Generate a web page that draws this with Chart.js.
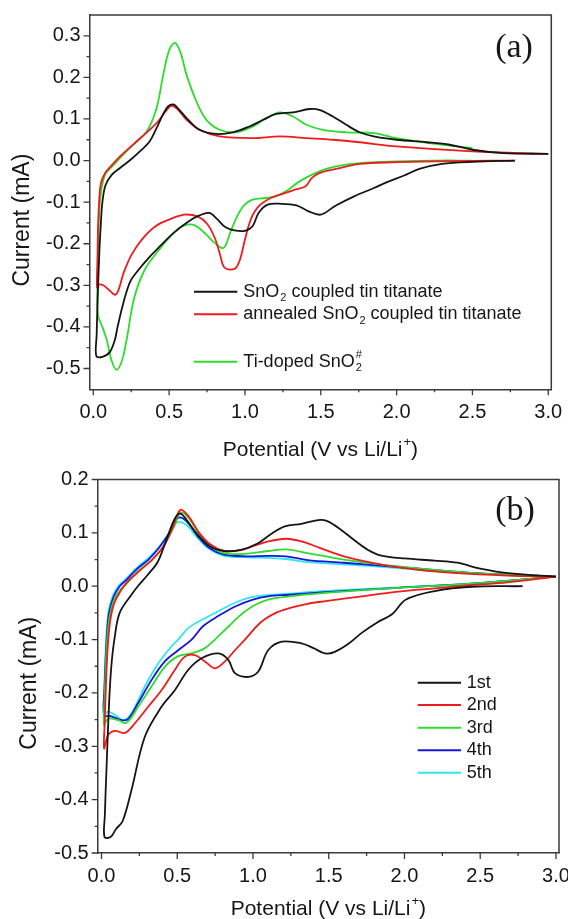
<!DOCTYPE html>
<html>
<head>
<meta charset="utf-8">
<script src="https://cdn.jsdelivr.net/npm/chart.js@4.4.1/dist/chart.umd.min.js"></script>
<style>
body{margin:0;background:#fff;width:568px;height:919px;overflow:hidden;position:relative}
.panel{position:absolute;left:0;width:568px}
#pa{top:0;height:460px}
#pb{top:460px;height:459px}
</style>
</head>
<body>
<div class="panel" id="pa"><canvas id="ca"></canvas></div>
<div class="panel" id="pb"><canvas id="cb"></canvas></div>
<script>
// ---- data: [potential V, current mA], cathodic sweep then anodic sweep ----
var aSnO2 = [[2.78,0],[2.5,-0.003],[2.3,-0.008],[2.15,-0.02],[2.05,-0.036],[1.95,-0.05],[1.85,-0.066],[1.72,-0.086],[1.6,-0.108],[1.5,-0.13],
  [1.42,-0.122],[1.34,-0.108],[1.24,-0.104],[1.15,-0.106],[1.09,-0.126],[1.05,-0.158],[1.0,-0.169],[0.93,-0.168],[0.87,-0.16],[0.82,-0.142],
  [0.765,-0.126],[0.70,-0.132],[0.63,-0.146],[0.53,-0.174],[0.44,-0.206],[0.37,-0.232],[0.30,-0.262],[0.245,-0.29],[0.2,-0.34],[0.16,-0.4],
  [0.143,-0.43],[0.11,-0.46],[0.06,-0.472],[0.02,-0.47],
  [0.022,-0.42],[0.03,-0.32],[0.04,-0.22],[0.05,-0.15],[0.06,-0.1],[0.08,-0.06],[0.12,-0.035],[0.176,-0.018],[0.24,0.0],[0.307,0.022],
  [0.37,0.045],[0.417,0.078],[0.483,0.126],[0.527,0.135],[0.56,0.125],[0.615,0.102],[0.70,0.074],[0.81,0.064],[0.92,0.068],[1.03,0.082],
  [1.12,0.098],[1.207,0.112],[1.317,0.116],[1.427,0.124],[1.49,0.122],[1.58,0.106],[1.668,0.086],[1.756,0.068],[1.85,0.058],[2.0,0.05],
  [2.2,0.044],[2.35,0.038],[2.5,0.026],[2.7,0.018],[3.0,0.016]];

var aAnnealed = [[2.78,0],[2.5,-0.001],[2.25,-0.002],[2.0,-0.004],[1.756,-0.008],[1.6,-0.02],[1.49,-0.03],[1.44,-0.042],[1.40,-0.062],[1.33,-0.07],
  [1.25,-0.08],[1.17,-0.09],[1.09,-0.11],[1.04,-0.14],[1.0,-0.19],[0.97,-0.235],[0.94,-0.258],[0.90,-0.262],[0.86,-0.255],[0.835,-0.225],
  [0.80,-0.185],[0.75,-0.152],[0.69,-0.135],[0.60,-0.13],[0.5,-0.142],[0.41,-0.158],[0.32,-0.19],[0.25,-0.228],[0.2,-0.27],[0.15,-0.322],
  [0.1,-0.31],[0.066,-0.3],[0.04,-0.298],[0.025,-0.305],
  [0.027,-0.25],[0.032,-0.15],[0.04,-0.09],[0.05,-0.055],[0.078,-0.03],[0.125,-0.01],[0.176,0.01],[0.307,0.053],[0.417,0.09],[0.505,0.13],
  [0.527,0.131],[0.56,0.122],[0.615,0.098],[0.70,0.074],[0.834,0.058],[1.053,0.054],[1.23,0.058],[1.405,0.054],[1.58,0.05],[1.756,0.044],
  [2.0,0.034],[2.5,0.022],[3.0,0.016]];

var aTiDoped = [[2.5,0],[2.25,0],[2.0,-0.002],[1.756,-0.006],[1.6,-0.014],[1.49,-0.026],[1.36,-0.05],[1.27,-0.074],[1.2,-0.086],[1.14,-0.09],
  [1.05,-0.094],[0.98,-0.114],[0.91,-0.166],[0.86,-0.21],[0.8,-0.198],[0.745,-0.178],[0.67,-0.156],[0.6,-0.156],[0.53,-0.174],[0.435,-0.214],
  [0.34,-0.262],[0.27,-0.33],[0.22,-0.43],[0.19,-0.48],[0.154,-0.503],[0.12,-0.48],[0.088,-0.43],[0.06,-0.4],[0.03,-0.37],
  [0.027,-0.3],[0.032,-0.2],[0.04,-0.12],[0.05,-0.078],[0.078,-0.034],[0.125,-0.014],[0.176,0.006],[0.263,0.038],[0.352,0.07],[0.417,0.126],
  [0.461,0.206],[0.5,0.265],[0.538,0.283],[0.575,0.26],[0.615,0.206],[0.68,0.142],[0.746,0.098],[0.834,0.074],[0.944,0.068],[1.053,0.082],
  [1.14,0.102],[1.23,0.116],[1.317,0.106],[1.405,0.086],[1.514,0.074],[1.668,0.068],[1.85,0.066],[2.0,0.054],[2.25,0.04],[2.5,0.03]];

var bCycle1 = [[2.78,0],[2.44,-0.001],[2.2,-0.009],[2.01,-0.025],[1.92,-0.052],[1.82,-0.068],[1.72,-0.087],[1.63,-0.108],[1.54,-0.123],[1.475,-0.126],
  [1.4,-0.116],[1.32,-0.107],[1.19,-0.104],[1.1,-0.12],[1.035,-0.16],[0.969,-0.17],[0.881,-0.163],[0.837,-0.138],[0.771,-0.126],[0.661,-0.135],
  [0.572,-0.157],[0.484,-0.195],[0.396,-0.226],[0.286,-0.282],[0.198,-0.382],[0.14,-0.44],[0.096,-0.455],[0.06,-0.47],[0.02,-0.47],
  [0.022,-0.43],[0.033,-0.343],[0.05,-0.22],[0.065,-0.15],[0.085,-0.1],[0.12,-0.05],[0.2,-0.015],[0.24,0.0],[0.307,0.022],[0.37,0.045],
  [0.417,0.078],[0.483,0.126],[0.52,0.136],[0.56,0.125],[0.63,0.098],[0.72,0.074],[0.81,0.066],[0.92,0.068],[1.03,0.08],[1.12,0.098],
  [1.21,0.112],[1.32,0.117],[1.43,0.124],[1.49,0.122],[1.58,0.106],[1.67,0.086],[1.76,0.068],[1.84,0.058],[2.0,0.052],[2.2,0.048],
  [2.35,0.044],[2.5,0.033],[2.7,0.024],[3.0,0.018]];

var bCycle2 = [[3.0,0.018],[2.68,0.007],[2.44,0.002],[2.2,-0.004],[1.96,-0.01],[1.72,-0.019],[1.48,-0.028],[1.36,-0.033],[1.24,-0.041],[1.15,-0.05],
  [1.05,-0.068],[0.947,-0.1],[0.881,-0.12],[0.815,-0.141],[0.749,-0.154],[0.683,-0.141],[0.617,-0.129],[0.55,-0.132],[0.484,-0.157],[0.396,-0.195],
  [0.308,-0.226],[0.22,-0.257],[0.154,-0.275],[0.088,-0.271],[0.044,-0.279],[0.017,-0.304],
  [0.022,-0.25],[0.03,-0.18],[0.04,-0.12],[0.055,-0.07],[0.08,-0.035],[0.12,-0.012],[0.17,0.008],[0.26,0.031],[0.335,0.05],[0.41,0.075],
  [0.47,0.11],[0.52,0.143],[0.575,0.131],[0.645,0.1],[0.72,0.078],[0.81,0.066],[0.91,0.067],[1.0,0.075],[1.1,0.084],[1.22,0.089],
  [1.32,0.084],[1.44,0.072],[1.6,0.056],[1.84,0.041],[2.08,0.031],[2.32,0.025],[2.68,0.02],[3.0,0.018]];

var bCycle3 = [[3.0,0.018],[2.44,0.005],[1.96,-0.003],[1.72,-0.0075],[1.48,-0.0125],[1.24,-0.019],[1.1,-0.025],[1.0,-0.037],[0.91,-0.056],[0.84,-0.075],
  [0.749,-0.1],[0.683,-0.116],[0.595,-0.126],[0.506,-0.131],[0.418,-0.151],[0.33,-0.188],[0.242,-0.226],[0.165,-0.256],[0.11,-0.251],[0.044,-0.248],
  [0.017,-0.26],
  [0.022,-0.2],[0.03,-0.14],[0.04,-0.09],[0.055,-0.055],[0.08,-0.028],[0.12,-0.008],[0.17,0.006],[0.24,0.028],[0.335,0.05],[0.41,0.075],
  [0.48,0.112],[0.52,0.138],[0.575,0.128],[0.645,0.097],[0.72,0.075],[0.81,0.062],[0.96,0.061],[1.1,0.066],[1.22,0.069],[1.36,0.062],
  [1.6,0.05],[1.96,0.037],[2.44,0.025],[3.0,0.018]];

var bCycle4 = [[3.0,0.018],[2.44,0.005],[1.96,-0.003],[1.48,-0.011],[1.24,-0.016],[1.1,-0.019],[1.0,-0.025],[0.89,-0.037],[0.77,-0.056],[0.67,-0.075],
  [0.595,-0.1],[0.506,-0.12],[0.418,-0.141],[0.33,-0.176],[0.242,-0.219],[0.176,-0.249],[0.132,-0.251],[0.055,-0.243],[0.017,-0.243],
  [0.02,-0.19],[0.027,-0.14],[0.036,-0.09],[0.05,-0.05],[0.08,-0.02],[0.12,0.0],[0.155,0.009],[0.23,0.031],[0.31,0.05],[0.38,0.072],
  [0.455,0.103],[0.505,0.128],[0.56,0.122],[0.635,0.094],[0.71,0.072],[0.81,0.059],[0.96,0.056],[1.1,0.057],[1.22,0.056],[1.36,0.049],
  [1.6,0.044],[1.96,0.036],[2.44,0.025],[3.0,0.018]];

var bCycle5 = [[3.0,0.018],[2.44,0.005],[1.96,-0.002],[1.48,-0.009],[1.24,-0.014],[1.0,-0.02],[0.89,-0.03],[0.77,-0.047],[0.67,-0.062],[0.575,-0.078],
  [0.506,-0.1],[0.462,-0.113],[0.374,-0.145],[0.286,-0.188],[0.198,-0.238],[0.143,-0.251],[0.088,-0.241],[0.044,-0.235],[0.017,-0.24],
  [0.02,-0.18],[0.026,-0.13],[0.034,-0.085],[0.048,-0.045],[0.075,-0.018],[0.11,0.0],[0.155,0.012],[0.23,0.034],[0.31,0.053],[0.38,0.074],
  [0.455,0.103],[0.5,0.12],[0.56,0.115],[0.635,0.09],[0.71,0.07],[0.81,0.057],[0.96,0.054],[1.1,0.053],[1.22,0.051],[1.36,0.045],
  [1.6,0.041],[1.96,0.034],[2.44,0.024],[3.0,0.018]];

// ---- ticks and labels ----
var xMajor = [0, 0.5, 1.0, 1.5, 2.0, 2.5, 3.0];
var xMinor = [0.25, 0.75, 1.25, 1.75, 2.25, 2.75];
var aYMajor = [0.3, 0.2, 0.1, 0.0, -0.1, -0.2, -0.3, -0.4, -0.5];
var aYMinor = [0.25, 0.15, 0.05, -0.05, -0.15, -0.25, -0.35, -0.45];
var bYMajor = [0.2, 0.1, 0.0, -0.1, -0.2, -0.3, -0.4, -0.5];
var bYMinor = [0.15, 0.05, -0.05, -0.15, -0.25, -0.35, -0.45];

// text pieces: [text, kind] with kind '' | 'sub' | 'sup' | 'subsup'
var aNames = [
  [['SnO', ''], ['2', 'sub'], [' coupled tin titanate', '']],
  [['annealed SnO', ''], ['2', 'sub'], [' coupled tin titanate', '']],
  [['Ti-doped SnO', ''], ['2|#', 'subsup']]
];
var bNames = ['1st', '2nd', '3rd', '4th', '5th'];
var yTitle = 'Current (mA)';
var xTitle = [['Potential (V vs Li/Li', ''], ['+', 'sup'], [')', '']];

var aColors = ['#151515', '#ee1c1c', '#2ddc2d'];
var bColors = ['#151515', '#ee1c1c', '#2ddc2d', '#1616d8', '#2fe6ee'];

var FONT = '"Liberation Sans", Arial, sans-serif';
var AXIS = '#3a3a3a';

function drawRich(ctx, segs, x, y, size, dry) {
  var small = Math.round(size * 0.62);
  var cx = x;
  segs.forEach(function (s) {
    var t = s[0], k = s[1];
    if (k === '') {
      ctx.font = size + 'px ' + FONT;
      if (!dry) ctx.fillText(t, cx, y);
      cx += ctx.measureText(t).width;
    } else {
      ctx.font = small + 'px ' + FONT;
      var parts = t.split('|');
      var w = 0;
      if (k === 'sub' || k === 'subsup') {
        if (!dry) ctx.fillText(parts[0], cx + 1, y + size * 0.36);
        w = ctx.measureText(parts[0]).width + 1;
      }
      if (k === 'sup' || k === 'subsup') {
        var sp = k === 'sup' ? parts[0] : parts[1];
        if (!dry) ctx.fillText(sp, cx + 1, y - size * 0.36);
        w = Math.max(w, ctx.measureText(sp).width + 1);
      }
      cx += w;
    }
  });
  return cx - x;
}

var framePlugin = {
  id: 'frame',
  afterDraw: function (chart, args, o) {
    var ctx = chart.ctx, ca = chart.chartArea;
    var xs = chart.scales.x, ys = chart.scales.y;
    ctx.save();
    ctx.strokeStyle = AXIS;
    ctx.lineWidth = 1.5;
    ctx.beginPath();
    ctx.moveTo(ca.left, ca.top);
    ctx.lineTo(ca.right, ca.top);
    ctx.lineTo(ca.right, ca.bottom);
    ctx.stroke();

    ctx.lineWidth = 1.3;
    ctx.beginPath();
    xMajor.forEach(function (v) { var p = xs.getPixelForValue(v); ctx.moveTo(p, ca.bottom); ctx.lineTo(p, ca.bottom + 6); });
    xMinor.forEach(function (v) { var p = xs.getPixelForValue(v); ctx.moveTo(p, ca.bottom); ctx.lineTo(p, ca.bottom + 3); });
    o.yMajor.forEach(function (v) { var p = ys.getPixelForValue(v); ctx.moveTo(ca.left - 6, p); ctx.lineTo(ca.left, p); });
    o.yMinor.forEach(function (v) { var p = ys.getPixelForValue(v); ctx.moveTo(ca.left - 3, p); ctx.lineTo(ca.left, p); });
    ctx.stroke();

    ctx.fillStyle = '#161616';
    ctx.textBaseline = 'middle';

    // y title
    ctx.save();
    ctx.translate(o.yTitleX, (ca.top + ca.bottom) / 2 + o.yTitleShift);
    ctx.rotate(-Math.PI / 2);
    ctx.textAlign = 'center';
    ctx.font = '23px ' + FONT;
    ctx.fillText(yTitle, 0, 0);
    ctx.restore();

    // x title
    ctx.textAlign = 'left';
    var w = drawRich(ctx, xTitle, 0, 0, 21, true);
    drawRich(ctx, xTitle, (ca.left + ca.right) / 2 - w / 2, o.xTitleY, 21);

    // panel tag
    ctx.textAlign = 'center';
    ctx.font = '34px "Liberation Serif", "Times New Roman", serif';
    ctx.fillText(o.tag, o.tagX, o.tagY);

    // legend
    ctx.textAlign = 'left';
    o.names.forEach(function (n, i) {
      var yy = o.rows[i];
      ctx.strokeStyle = o.colors[i];
      ctx.lineWidth = 2;
      ctx.beginPath();
      ctx.moveTo(o.lineX0, yy);
      ctx.lineTo(o.lineX1, yy);
      ctx.stroke();
      var segs = typeof n === 'string' ? [[n, '']] : n;
      drawRich(ctx, segs, o.textX, yy, o.legendSize);
    });
    ctx.restore();
  }
};

function makeSets(series, colors) {
  return series.map(function (s, i) {
    return {
      data: s.map(function (p) { return { x: p[0], y: p[1] }; }),
      showLine: true,
      borderColor: colors[i],
      borderWidth: 1.8,
      pointRadius: 0,
      tension: 0.35,
      fill: false
    };
  });
}

function makeChart(canvasId, series, colors, yMin, yMax, yMajor, lay) {
  var ctx = document.getElementById(canvasId).getContext('2d');
  return new Chart(ctx, {
    type: 'scatter',
    data: { datasets: makeSets(series, colors) },
    options: {
      responsive: true,
      maintainAspectRatio: false,
      animation: false,
      layout: { padding: { top: lay.padTop, right: lay.padRight, left: 0, bottom: 0 } },
      plugins: {
        legend: { display: false },
        tooltip: { enabled: false },
        frame: lay
      },
      scales: {
        x: {
          type: 'linear',
          min: -0.025,
          max: 3.02,
          afterBuildTicks: function (s) { s.ticks = xMajor.map(function (v) { return { value: v }; }); },
          afterFit: function (s) { s.height = lay.xHeight; s.paddingLeft = 0; s.paddingRight = 0; },
          ticks: {
            autoSkip: false, maxRotation: 0, padding: 11, color: '#161616',
            font: { family: FONT, size: 20 },
            callback: function (v) { return Number(v).toFixed(1); }
          },
          grid: { display: true, drawOnChartArea: false, drawTicks: false },
          border: { display: true, color: AXIS, width: 1.5 }
        },
        y: {
          type: 'linear',
          min: yMin,
          max: yMax,
          afterBuildTicks: function (s) { s.ticks = yMajor.map(function (v) { return { value: v }; }); },
          afterFit: function (s) { s.width = lay.yWidth; s.paddingTop = 0; s.paddingBottom = 0; },
          ticks: {
            autoSkip: false, padding: 9, color: '#161616',
            font: { family: FONT, size: 20 },
            callback: function (v) { return Number(v).toFixed(1); }
          },
          grid: { display: true, drawOnChartArea: false, drawTicks: false },
          border: { display: true, color: AXIS, width: 1.5 }
        }
      }
    },
    plugins: [framePlugin]
  });
}

var chartA = makeChart('ca', [aSnO2, aAnnealed, aTiDoped], aColors, -0.55, 0.35, aYMajor, {
  padTop: 15, padRight: 16.7, yWidth: 89.5, xHeight: 70.7,
  yMajor: aYMajor, yMinor: aYMinor,
  yTitleX: 23, yTitleShift: 18, xTitleY: 450,
  tag: '(a)', tagX: 514, tagY: 48,
  names: aNames, colors: aColors, legendSize: 18,
  lineX0: 194, lineX1: 237.3, textX: 243.3, rows: [291.7, 314.3, 361.7]
});

var chartB = makeChart('cb', [bCycle1, bCycle2, bCycle3, bCycle4, bCycle5], bColors, -0.5, 0.2, bYMajor, {
  padTop: 19.5, padRight: 9, yWidth: 97.7, xHeight: 66,
  yMajor: bYMajor, yMinor: bYMinor,
  yTitleX: 30, yTitleShift: 17, xTitleY: 449,
  tag: '(b)', tagX: 515, tagY: 51,
  names: bNames, colors: bColors, legendSize: 18,
  lineX0: 417.7, lineX1: 461, textX: 466.7, rows: [222.7, 245, 267.7, 290.3, 312.7]
});
</script>
</body>
</html>
